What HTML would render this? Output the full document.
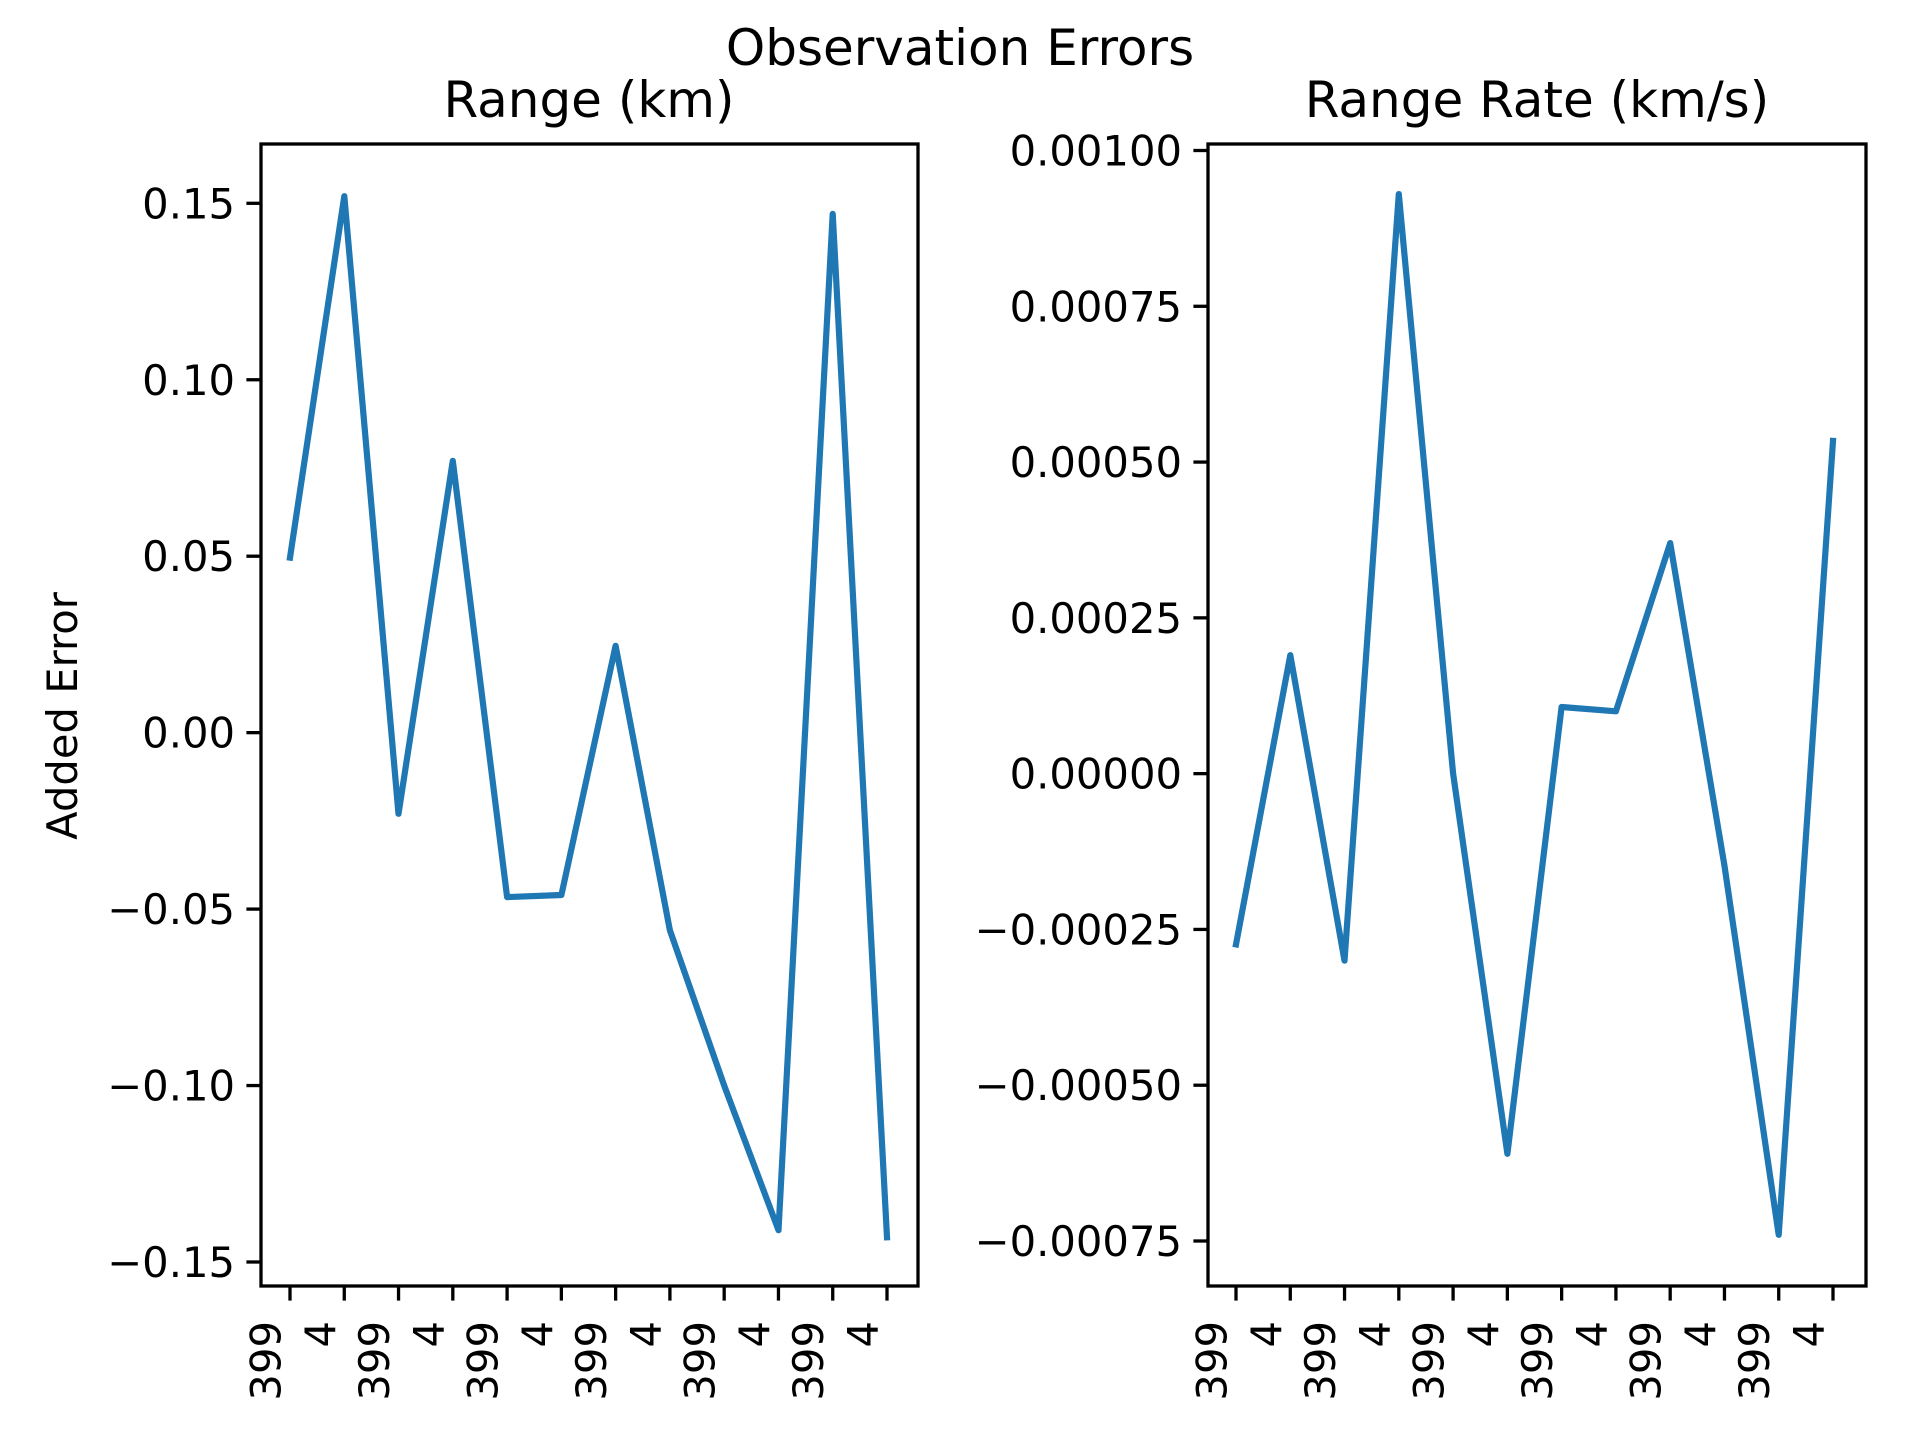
<!DOCTYPE html>
<html><head><meta charset="utf-8"><style>
html,body{margin:0;padding:0;background:#fff;}
svg{display:block;font-family:"DejaVu Sans","Liberation Sans",sans-serif;}
</style></head><body>
<svg id="fig" width="1920" height="1440" viewBox="0 0 1920 1440" xmlns="http://www.w3.org/2000/svg">
<rect width="1920" height="1440" fill="#fff"/>
<text x="960" y="65" font-size="50" text-anchor="middle">Observation Errors</text>
<text x="589" y="117" font-size="50" text-anchor="middle">Range (km)</text>
<text x="1537" y="117" font-size="50" text-anchor="middle">Range Rate (km/s)</text>
<text x="77" y="716" font-size="41.7" text-anchor="middle" transform="rotate(-90 77 716)">Added Error</text>
</svg>
<script>
const xLabels = ["399","4","399","4","399","4","399","4","399","4","399","4"];
const rangeValues = [0.0496,0.152,-0.023,0.077,-0.0466,-0.046,0.0246,-0.056,-0.100,-0.141,0.147,-0.143];
const rangeTicks = [0.15,0.10,0.05,0.00,-0.05,-0.10,-0.15];
const rangeTickLabels = ["0.15","0.10","0.05","0.00","\u22120.05","\u22120.10","\u22120.15"];
const rateValues = [-0.000274,0.00019,-0.0003,0.00093,0.0,-0.00061,0.000107,0.0001,0.00037,-0.000148,-0.00074,0.000534];
const rateTicks = [0.001,0.00075,0.0005,0.00025,0,-0.00025,-0.0005,-0.00075];
const rateTickLabels = ["0.00100","0.00075","0.00050","0.00025","0.00000","\u22120.00025","\u22120.00050","\u22120.00075"];

const NS="http://www.w3.org/2000/svg";
const svg=document.getElementById('fig');
function mk(tag,attrs,parent){const e=document.createElementNS(NS,tag);for(const k in attrs)e.setAttribute(k,attrs[k]);(parent||svg).appendChild(e);return e;}

function panel(prefix,L,R,T,B,x0,x1,v0,y0,v1,y1,values,ticks,tickLabels){
  const g=mk('g',{});
  
  
  const xs=i=>x0+(x1-x0)*i/(values.length-1);
  const ys=v=>y0+(v-v0)*(y1-y0)/(v1-v0);
  const pts=values.map((v,i)=>xs(i).toFixed(1)+','+ys(v).toFixed(1)).join(' ');
  const line=mk('polyline',{points:pts,fill:'none',stroke:'#1f77b4','stroke-width':6.2,'stroke-linejoin':'round','stroke-linecap':'square'},g);
  
  
  const frame=mk('rect',{x:L,y:T,width:R-L,height:B-T,fill:'none',stroke:'#000','stroke-width':3.3},g);
  
  
  xLabels.forEach((lab,i)=>{
    const x=xs(i);
    const t=mk('line',{x1:x,y1:B,x2:x,y2:B+14.6,stroke:'#000','stroke-width':3.3},g);
    
    
    const lx=x-24;
    const tx=mk('text',{x:lx,y:B+35,'font-size':41.7,'text-anchor':'end','dominant-baseline':'central',transform:'rotate(-90 '+lx+' '+(B+35)+')'},g);
    tx.textContent=lab;
    
    
  });
  ticks.forEach((v,i)=>{
    const y=ys(v);
    const t=mk('line',{x1:L-14.6,y1:y,x2:L,y2:y,stroke:'#000','stroke-width':3.3},g);
    
    
    const tx=mk('text',{x:L-26,y:y+15,'font-size':41.7,'text-anchor':'end'},g);
    tx.textContent=tickLabels[i];
    
    
  });
}
panel('range',261,918,144,1286,290,887,0.15,203.3,-0.15,1262,rangeValues,rangeTicks,rangeTickLabels);
panel('range-rate',1208,1866,144,1286,1236,1833,0.001,150.5,-0.00075,1241,rateValues,rateTicks,rateTickLabels);
</script>
</body></html>
